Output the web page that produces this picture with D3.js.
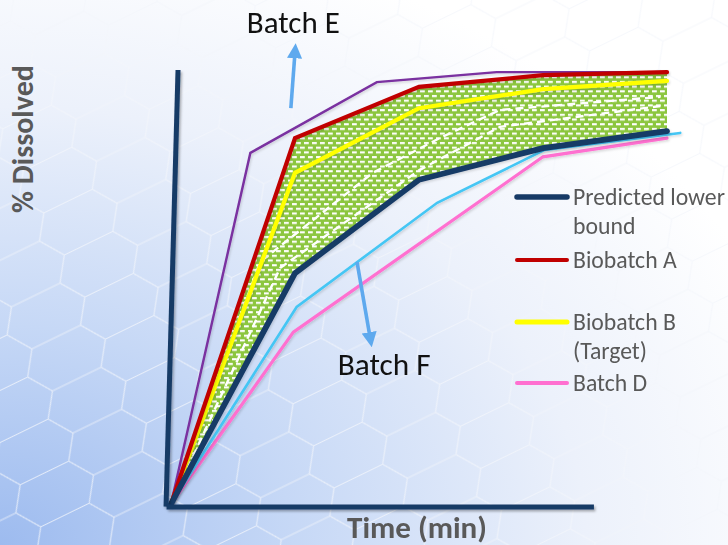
<!DOCTYPE html>
<html><head><meta charset="utf-8">
<script src="https://cdn.jsdelivr.net/npm/d3@7"></script>
<style>html,body{margin:0;padding:0;background:#fff;}svg{display:block;}</style>
</head><body>
<svg id="chart" width="728" height="545"></svg>
<script>
// ---- data ----
const times        = [0, 15, 30, 45, 60];
const lowerBound   = [0, 53.2, 74.7, 82.0, 85.9];   // Predicted lower bound
const biobatchA    = [0, 84.3, 96.1, 98.8, 99.5];
const biobatchB    = [0, 76.3, 91.2, 95.6, 97.5];   // Target
const batchETimes  = [0, 9.6, 24.9, 39.4, 60];
const batchE       = [0, 80.9, 97.2, 99.5, 99.5];
const batchFTimes  = [0, 15.2, 32.2, 45.2, 61.6];
const batchF       = [0, 45.4, 69.4, 81.6, 85.5];
const batchDTimes  = [0, 14.8, 45, 60];
const batchD       = [0, 39.6, 80.0, 84.3];
const simUpperTimes = [0, 10.8, 24.4, 32.5, 39.8, 59.2];
const simUpper      = [0, 55.8, 76.3, 84.3, 90.8, 93.8];
const simLowerTimes = [0, 13.2, 30.1, 39.8, 59.2];
const simLower      = [0, 54.4, 77.0, 86.9, 91.7];
const legendLabels = [["Predicted lower", "bound"], ["Biobatch A"], ["Biobatch B", "(Target)"], ["Batch D"]];
const annotationLabels = ["Batch E", "Batch F"];
const annotationArrows = [ {from:[14.5, 91.2], to:[15.0, 104.1], label:[14.8, 108.5]},
                           {from:[22.5, 55.8], to:[24.1, 38.2], label:[25.8, 29.7]} ];
const xAxisTitle = "Time (min)";
const yAxisTitle = "% Dissolved";

const svg = d3.select("#chart");
const W = 728, H = 545;
const FONT = "Carlito, Lato, 'Open Sans', sans-serif";

const x = d3.scaleLinear().domain([0, 60]).range([171, 667]);
const y = d3.scaleLinear().domain([0, 100]).range([504, 70]);

const defs = svg.append("defs");
// background gradient
const rg = defs.append("radialGradient").attr("id","bg").attr("cx",0).attr("cy",1).attr("r",1.15).attr("fx",0).attr("fy",1);
[[0,"#9dbbef"],[0.35,"#c6d8f6"],[0.7,"#ecf1fb"],[1,"#ffffff"]].forEach(s=>rg.append("stop").attr("offset",s[0]).attr("stop-color",s[1]));
// hex pattern
const hp = defs.append("pattern").attr("id","hex").attr("patternUnits","userSpaceOnUse")
  .attr("width",104).attr("height",36).attr("patternTransform","rotate(-26) scale(1.35,1.3)");
hp.append("path").attr("d","M0,18L12,0L52,0L64,18L52,36L12,36Z M64,18L104,18")
  .attr("fill","none").attr("stroke","#f2f5fa").attr("stroke-opacity",0.75).attr("stroke-width",0.9);
// green dotted band pattern
const gp = defs.append("pattern").attr("id","band").attr("patternUnits","userSpaceOnUse").attr("width",8).attr("height",9.4);
gp.append("rect").attr("width",8).attr("height",9.4).attr("fill","#8cc63f");
gp.append("rect").attr("x",0).attr("y",1).attr("width",4.8).attr("height",2.1).attr("fill","#fff");
gp.append("rect").attr("x",4).attr("y",5.7).attr("width",4.8).attr("height",2.1).attr("fill","#fff");
gp.append("rect").attr("x",-4).attr("y",5.7).attr("width",4.8).attr("height",2.1).attr("fill","#fff");
// shadow
const sh = defs.append("filter").attr("id","shadow").attr("x","-10%").attr("y","-10%").attr("width","130%").attr("height","130%");
sh.append("feDropShadow").attr("dx",1.5).attr("dy",2).attr("stdDeviation",1.2).attr("flood-color","#000").attr("flood-opacity",0.3);
const sh2 = defs.append("filter").attr("id","shadow2").attr("x","-10%").attr("y","-10%").attr("width","130%").attr("height","130%");
sh2.append("feDropShadow").attr("dx",1).attr("dy",1.5).attr("stdDeviation",1).attr("flood-color","#000").attr("flood-opacity",0.15);
// arrow marker
defs.append("marker").attr("id","arrow").attr("viewBox","0 0 10 10").attr("refX",4).attr("refY",5)
  .attr("markerWidth",4.2).attr("markerHeight",4.2).attr("orient","auto-start-reverse").attr("markerUnits","strokeWidth")
  .append("path").attr("d","M0,0L10,5L0,10Z").attr("fill","#5ea9ee");

svg.append("rect").attr("width",W).attr("height",H).attr("fill","url(#bg)");
svg.append("rect").attr("width",W).attr("height",H).attr("fill","url(#hex)");

const line = d3.line().x(d=>x(d[0])).y(d=>y(d[1]));
const zipT = (ts, vs) => ts.map((t,i)=>[t, vs[i]]);

// band between Biobatch A and predicted lower bound
const area = d3.area().x((d,i)=>x(times[i])).y0((d,i)=>y(lowerBound[i])).y1((d,i)=>y(biobatchA[i]));
svg.append("path").datum(times).attr("d", area).attr("fill","url(#band)");

// simulated dashed profiles
[[simUpperTimes, simUpper],[simLowerTimes, simLower]].forEach(([ts,vs])=>{
  svg.append("path").datum(zipT(ts,vs)).attr("d",line).attr("fill","none")
    .attr("stroke","#fff").attr("stroke-width",2.4).attr("stroke-dasharray","8,5");
});

const series = [
  {t: batchDTimes, v: batchD, color:"#ff6fd0", w:3.2},
  {t: batchFTimes, v: batchF, color:"#44c6f4", w:2.6},
  {t: batchETimes, v: batchE, color:"#7a30a0", w:2.4},
  {t: times, v: biobatchB, color:"#ffff00", w:4.2},
  {t: times, v: biobatchA, color:"#c00000", w:4.2},
  {t: times, v: lowerBound, color:"#163a66", w:5.8},
];
series.forEach(s=>{
  svg.append("path").datum(zipT(s.t, s.v)).attr("d", line).attr("fill","none")
    .attr("stroke", s.color).attr("stroke-width", s.w).attr("stroke-linejoin","miter").attr("stroke-linecap","round")
    .attr("filter","url(#shadow2)");
});

// axes (no ticks)
const axG = svg.append("g").attr("filter","url(#shadow)");
axG.append("path").datum([[0.85,100],[-0.6,-0.6]]).attr("d",line).attr("stroke","#163a66").attr("stroke-width",5).attr("fill","none");
const xAxisScale = x.copy().domain([-0.6, 51.1]).range([x(-0.6), x(51.1)]);
axG.append("g").attr("transform",`translate(0,${y(-0.6)})`)
  .call(d3.axisBottom(xAxisScale).tickValues([]).tickSizeOuter(0))
  .call(g=>g.select(".domain").attr("stroke","#163a66").attr("stroke-width",5));

function fit(sel, target){
  const l = sel.node().getComputedTextLength();
  const fs = parseFloat(sel.attr("font-size"));
  sel.attr("font-size", (fs*target/l).toFixed(2));
  return fs*target/l;
}

// annotations
annotationArrows.forEach((a,i)=>{
  svg.append("path").datum([a.from, a.to]).attr("d", line).attr("stroke","#5ea9ee").attr("stroke-width",3.6)
    .attr("fill","none").attr("marker-end","url(#arrow)");
  const t = svg.append("text").attr("x", x(a.label[0])).attr("y", y(a.label[1])).attr("text-anchor","middle")
    .attr("font-family",FONT).attr("font-size",26).attr("fill","#111").text(annotationLabels[i]);
  fit(t, 93);
});

// axis titles
const yt = svg.append("text").attr("transform","translate(33,139) rotate(-90)").attr("text-anchor","middle")
  .attr("font-family",FONT).attr("font-weight","bold").attr("font-size",28).attr("fill","#595959").text(yAxisTitle);
fit(yt, 148);
const xt = svg.append("text").attr("x",417).attr("y",538).attr("text-anchor","middle")
  .attr("font-family",FONT).attr("font-weight","bold").attr("font-size",28).attr("fill","#595959").text(xAxisTitle);
fit(xt, 140);

// legend
const legColors = ["#163a66","#c00000","#ffff00","#ff6fd0"];
const legWidths = [5.5,4,5,4];
const legLineY = [197, 260, 322, 383];
const lg = svg.append("g");
let legFs = 20;
const probe = lg.append("text").attr("font-family",FONT).attr("font-size",20).text(legendLabels[0][0]);
legFs = fit(probe, 152); probe.remove();
legendLabels.forEach((lab,i)=>{
  lg.append("line").attr("x1",517).attr("x2",567).attr("y1",legLineY[i]).attr("y2",legLineY[i])
    .attr("stroke",legColors[i]).attr("stroke-width",legWidths[i]).attr("stroke-linecap","round");
  const tx = lg.append("text").attr("x",573).attr("y",legLineY[i]+8).attr("font-family",FONT)
    .attr("font-size",legFs).attr("fill","#595959");
  lab.forEach((s,j)=>tx.append("tspan").attr("x",573).attr("dy", j===0?0:29).text(s));
});
</script>
</body></html>
